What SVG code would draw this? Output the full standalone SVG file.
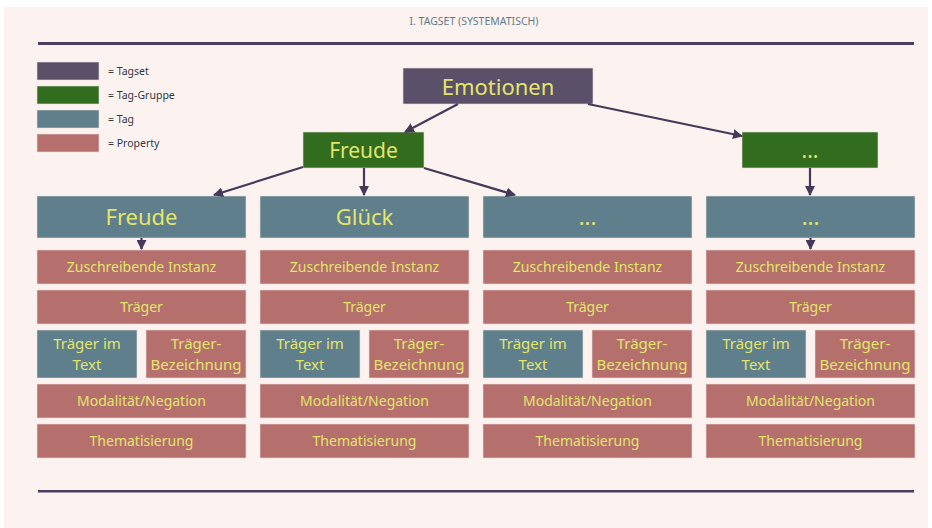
<svg xmlns="http://www.w3.org/2000/svg" width="932" height="528" viewBox="0 0 932 528">
<defs>
<marker id="ah" viewBox="0 0 10 10" refX="9" refY="5" markerWidth="10" markerHeight="10" orient="auto" markerUnits="userSpaceOnUse">
<path d="M0,0 L10,5 L0,10 z" fill="#45395a"/>
</marker>
<style>
.t{font-family:"Noto Sans","Open Sans",sans-serif;fill:#e3e56a;text-anchor:middle;dominant-baseline:central}
.title{font-family:"Noto Sans","Open Sans",sans-serif;font-size:10.5px;fill:#667b88;text-anchor:middle;dominant-baseline:central}
.set{fill:#5b5069;stroke:#e9dede;stroke-width:0.6}
.grp{fill:#326c1f;stroke:#e9dede;stroke-width:0.6}
.tag{fill:#5e7f8b;stroke:#e9dede;stroke-width:0.6}
.prop{fill:#b5706d;stroke:#e9dede;stroke-width:0.6}
.big{font-size:22px}
.mid{font-size:21px}
.sm{font-size:14px}
.sp{font-size:15px}
.lg{font-family:"Noto Sans","Open Sans",sans-serif;font-size:10.5px;fill:#2e3848;dominant-baseline:central}
.c{stroke:#45395a;stroke-width:2.2;fill:none;marker-end:url(#ah)}
</style>
</defs>
<rect x="0" y="0" width="932" height="528" fill="#ffffff"/>
<rect x="4" y="7" width="924" height="521" fill="#fcf3f0"/>
<text class="title" x="474" y="21">I. TAGSET (SYSTEMATISCH)</text>
<rect x="38" y="42" width="876" height="3" fill="#4a3f5e"/>
<rect x="38" y="490" width="876" height="2.5" fill="#4a3f5e"/>

<g id="legend">
<rect class="set" x="37" y="62" width="62" height="18"/>
<text class="lg" x="108" y="71">= Tagset</text>
<rect class="grp" x="37" y="86" width="62" height="18"/>
<text class="lg" x="108" y="95">= Tag-Gruppe</text>
<rect class="tag" x="37" y="110" width="62" height="18"/>
<text class="lg" x="108" y="119">= Tag</text>
<rect class="prop" x="37" y="134" width="62" height="18"/>
<text class="lg" x="108" y="143">= Property</text>
</g>

<g id="emotionen"><rect class="set" x="403" y="68" width="190" height="36"/><text class="t big" x="498" y="85.5">Emotionen</text></g>
<g id="grp-freude"><rect class="grp" x="303" y="132" width="121" height="36"/><text class="t mid" x="363.5" y="149.5">Freude</text></g>
<g id="grp-more"><rect class="grp" x="742" y="132" width="136" height="36"/><text class="t mid" x="810" y="149.5">...</text></g>

<g id="col1">
<rect class="tag" x="37" y="196" width="209" height="42"/><text class="t big" x="141.5" y="216">Freude</text>
<rect class="prop" x="37" y="250" width="209" height="34"/><text class="t sm" x="141.5" y="266.5">Zuschreibende Instanz</text>
<rect class="prop" x="37" y="290" width="209" height="34"/><text class="t sm" x="141.5" y="306.5">Träger</text>
<rect class="tag" x="37" y="330" width="100" height="48"/><text class="t sp" x="87" y="343">Träger im</text><text class="t sp" x="87" y="364">Text</text>
<rect class="prop" x="146" y="330" width="100" height="48"/><text class="t sp" x="196" y="343">Träger-</text><text class="t sp" x="196" y="364">Bezeichnung</text>
<rect class="prop" x="37" y="384" width="209" height="34"/><text class="t sm" x="141.5" y="400.5">Modalität/Negation</text>
<rect class="prop" x="37" y="424" width="209" height="34"/><text class="t sm" x="141.5" y="440.5">Thematisierung</text>
</g>

<g id="col2">
<rect class="tag" x="260" y="196" width="209" height="42"/><text class="t big" x="364.5" y="216">Glück</text>
<rect class="prop" x="260" y="250" width="209" height="34"/><text class="t sm" x="364.5" y="266.5">Zuschreibende Instanz</text>
<rect class="prop" x="260" y="290" width="209" height="34"/><text class="t sm" x="364.5" y="306.5">Träger</text>
<rect class="tag" x="260" y="330" width="100" height="48"/><text class="t sp" x="310" y="343">Träger im</text><text class="t sp" x="310" y="364">Text</text>
<rect class="prop" x="369" y="330" width="100" height="48"/><text class="t sp" x="419" y="343">Träger-</text><text class="t sp" x="419" y="364">Bezeichnung</text>
<rect class="prop" x="260" y="384" width="209" height="34"/><text class="t sm" x="364.5" y="400.5">Modalität/Negation</text>
<rect class="prop" x="260" y="424" width="209" height="34"/><text class="t sm" x="364.5" y="440.5">Thematisierung</text>
</g>

<g id="col3">
<rect class="tag" x="483" y="196" width="209" height="42"/><text class="t big" x="587.5" y="216">...</text>
<rect class="prop" x="483" y="250" width="209" height="34"/><text class="t sm" x="587.5" y="266.5">Zuschreibende Instanz</text>
<rect class="prop" x="483" y="290" width="209" height="34"/><text class="t sm" x="587.5" y="306.5">Träger</text>
<rect class="tag" x="483" y="330" width="100" height="48"/><text class="t sp" x="533" y="343">Träger im</text><text class="t sp" x="533" y="364">Text</text>
<rect class="prop" x="592" y="330" width="100" height="48"/><text class="t sp" x="642" y="343">Träger-</text><text class="t sp" x="642" y="364">Bezeichnung</text>
<rect class="prop" x="483" y="384" width="209" height="34"/><text class="t sm" x="587.5" y="400.5">Modalität/Negation</text>
<rect class="prop" x="483" y="424" width="209" height="34"/><text class="t sm" x="587.5" y="440.5">Thematisierung</text>
</g>

<g id="col4">
<rect class="tag" x="706" y="196" width="209" height="42"/><text class="t big" x="810.5" y="216">...</text>
<rect class="prop" x="706" y="250" width="209" height="34"/><text class="t sm" x="810.5" y="266.5">Zuschreibende Instanz</text>
<rect class="prop" x="706" y="290" width="209" height="34"/><text class="t sm" x="810.5" y="306.5">Träger</text>
<rect class="tag" x="706" y="330" width="100" height="48"/><text class="t sp" x="756" y="343">Träger im</text><text class="t sp" x="756" y="364">Text</text>
<rect class="prop" x="815" y="330" width="100" height="48"/><text class="t sp" x="865" y="343">Träger-</text><text class="t sp" x="865" y="364">Bezeichnung</text>
<rect class="prop" x="706" y="384" width="209" height="34"/><text class="t sm" x="810.5" y="400.5">Modalität/Negation</text>
<rect class="prop" x="706" y="424" width="209" height="34"/><text class="t sm" x="810.5" y="440.5">Thematisierung</text>
</g>

<g id="connectors">
<line class="c" x1="458" y1="104" x2="405" y2="132"/>
<line class="c" x1="588" y1="104" x2="742" y2="136"/>
<line class="c" x1="303" y1="167" x2="214" y2="195"/>
<line class="c" x1="364" y1="168" x2="364" y2="195"/>
<line class="c" x1="424" y1="168" x2="515" y2="195"/>
<line class="c" x1="810" y1="168" x2="810" y2="195"/>
<line class="c" x1="141.5" y1="238" x2="141.5" y2="249"/>
<line class="c" x1="810.5" y1="238" x2="810.5" y2="249"/>
</g>
</svg>
